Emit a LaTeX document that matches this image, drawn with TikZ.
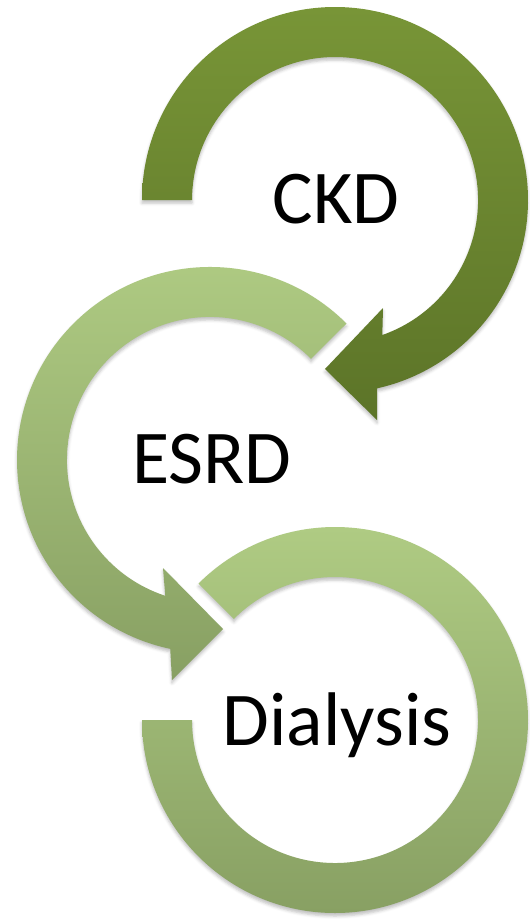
\documentclass[tikz,border=0pt]{standalone}
\usepackage{fontspec}
\setmainfont{Carlito}
\usetikzlibrary{shadows.blur}
\definecolor{olivetop}{HTML}{789537}
\definecolor{olivebot}{HTML}{5C7428}
\definecolor{sagetop}{HTML}{AFCB83}
\definecolor{sagebot}{HTML}{88A063}
\begin{document}
\begin{tikzpicture}[x=1pt,y=1pt,
    ringshadow/.style={blur shadow={shadow xshift=0pt,shadow yshift=-3pt,shadow blur radius=3pt,shadow opacity=25}},
    darkring/.style={top color=olivetop,bottom color=olivebot,ringshadow},
    lightring/.style={top color=sagetop,bottom color=sagebot,ringshadow},
    stagelabel/.style={anchor=base,font=\fontsize{76}{80}\selectfont}]
  \useasboundingbox (0,0) rectangle (530,-919);
  \def\outR{193}
  \def\inR{143}
  % Dialysis ring, no head
  \path [lightring] (142,-720) arc [start angle=180,end angle=495,radius=\outR]
    -- (233.9,-618.9) arc [start angle=135,end angle=-180,radius=\inR] -- cycle;
  % ESRD arrow
  \path [lightring] (346.5,-323.5) arc [start angle=45,end angle=258.1,radius=\outR]
    -- (172,-680) -- (223,-629) -- (163,-568)
    -- (165.3,-595.8) arc [start angle=251.8,end angle=45,radius=\inR] -- cycle;
  % CKD arrow
  \path [darkring] (142,-200) arc [start angle=180,end angle=-77.4,radius=\outR]
    -- (377,-420) -- (325,-369) -- (383,-308)
    -- (382.3,-335) arc [start angle=-70.7,end angle=180,radius=\inR] -- cycle;
  \node [stagelabel] (ckd) at (336,-223) {CKD};
  \node [stagelabel] (esrd) at (212,-483) {ESRD};
  \node [stagelabel] (dialysis) at (337,-745) {Dialysis};
\end{tikzpicture}
\end{document}
